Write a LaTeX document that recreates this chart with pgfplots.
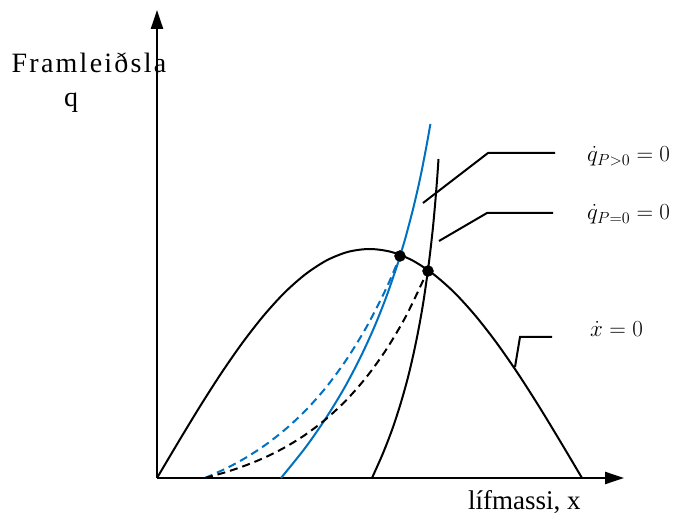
\RequirePackage{fix-cm}
\documentclass[border=0pt]{standalone}
\usepackage{fontspec}
\setmainfont{Liberation Serif}
\usepackage{pgfplots}
\pgfplotsset{compat=1.18}
\usetikzlibrary{arrows.meta}
\definecolor{wblue}{RGB}{0,112,192}
\begin{document}
\begin{tikzpicture}
\useasboundingbox (0pt,0pt) rectangle (673pt,515pt);
\begin{axis}[at={(157pt,37pt)}, anchor=origin, x=1pt, y=1pt,
  xmin=0, xmax=467, ymin=0, ymax=468,
  axis lines=left,
  axis line style={line width=2.4pt, -{Triangle[length=19pt,width=12pt]}},
  xtick=\empty, ytick=\empty, clip=false]
% x-dot = 0 (growth curve)
\addplot[black, line width=2pt, smooth] coordinates {
 (0,0) (21.25,35.8) (42.5,70.8) (63.75,104.0) (85,134.6) (106.25,161.9)
 (127.5,185.3) (148.75,204.0) (170,217.8) (191.25,226.2) (212.5,229)
 (233.75,226.2) (255,217.8) (276.25,204.0) (297.5,185.3) (318.75,161.9)
 (340,134.6) (361.25,104.0) (382.5,70.8) (403.75,35.8) (425,0)};
% q-dot P=0 (black steep)
\addplot[black, line width=2pt, smooth] coordinates {
 (215,0) (226.1,25) (235.7,50) (243.8,75) (250.8,100) (256.7,125) (261.8,150)
 (266.2,175) (270.3,203) (273.1,225) (275.9,250) (278.2,275) (280.2,300) (281.5,319)};
% q-dot P>0 (blue solid)
\addplot[wblue, line width=2pt, smooth] coordinates {
 (124,0) (148.1,30) (169.0,60) (187.3,90) (203.1,120) (216.9,150) (228.9,180)
 (239.3,210) (242.7,221) (248.4,240) (256.3,270) (263.2,300) (269.1,330) (273.4,354)};
% blue dashed
\addplot[wblue, line width=2pt, smooth, dash pattern=on 8pt off 5pt] coordinates {
 (48,0) (70,10.0) (90,21.0) (110,34.2) (130,50.1) (150,69.0) (170,91.8)
 (190,119.2) (210,151.9) (230,191.2) (243,222)};
% black dashed
\addplot[black, line width=2pt, smooth, dash pattern=on 8pt off 5pt] coordinates {
 (48,0) (70,6.2) (90,13.1) (110,21.5) (130,31.8) (150,44.4) (170,59.8)
 (190,78.6) (210,101.6) (230,129.6) (250,163.8) (271,208)};
% leader lines
\addplot[black, line width=2pt] coordinates {(266,275) (331,325) (398,325)};
\addplot[black, line width=2pt] coordinates {(282,237) (330,265) (396,265)};
\addplot[black, line width=2pt] coordinates {(358,111) (363,141) (395,141)};
% intersection points
\addplot[only marks, mark=*, mark size=5.5pt, black] coordinates {(243,222) (271,207)};
\end{axis}
\node[anchor=base, inner sep=0pt, font=\fontsize{28}{30}\selectfont\addfontfeature{LetterSpace=8}] at (89pt,442pt) {Framleiðsla};
\node[anchor=base, inner sep=0pt, font=\fontsize{28}{30}\selectfont] at (71pt,408pt) {q};
\node[anchor=base west, inner sep=0pt, font=\fontsize{27}{30}\selectfont] at (468pt,6pt) {lífmassi, x};
\node[anchor=base west, inner sep=0pt, font=\fontsize{23}{26}\selectfont] at (587pt,353pt) {$\dot{q}_{P>0}=0$};
\node[anchor=base west, inner sep=0pt, font=\fontsize{23}{26}\selectfont] at (587pt,295pt) {$\dot{q}_{P=0}=0$};
\node[anchor=base west, inner sep=0pt, font=\fontsize{23}{26}\selectfont] at (590pt,178pt) {$\dot{x}=0$};
\end{tikzpicture}
\end{document}
